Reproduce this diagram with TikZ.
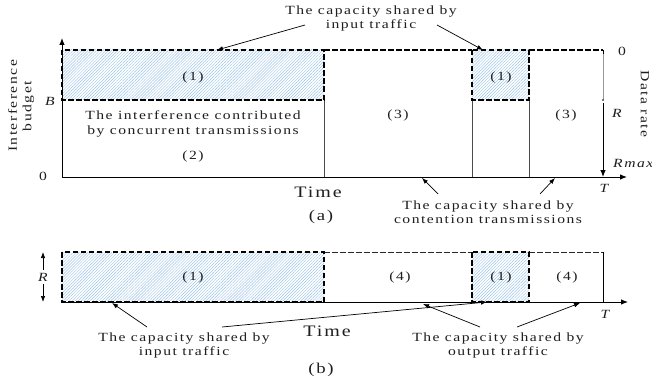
\documentclass[tikz,border=0pt]{standalone}
\usepackage{fontspec}
\setmainfont{Liberation Serif}[FakeStretch=1.25,LetterSpace=12]
\usetikzlibrary{arrows.meta,patterns.meta}
\definecolor{hatch}{RGB}{155,195,232}
\definecolor{ink}{RGB}{30,30,30}
\newcommand\lblsize{\fontsize{12.5}{14.5}\selectfont}
\begin{document}
\begin{tikzpicture}[x=1pt,y=-1pt,
  lbl/.style={font=\lblsize, align=center, inner sep=0pt, text=ink},
  ilbl/.style={font=\lblsize\itshape, inner sep=0pt, text=ink},
  timelbl/.style={font=\fontsize{16}{18}\selectfont, inner sep=0pt, text=ink},
  caplbl/.style={font=\fontsize{15}{17}\selectfont, inner sep=0pt, text=ink},
  hatched/.style={pattern={Lines[angle=45,distance=2.1pt,line width=0.45pt]}, pattern color=hatch},
  thickdash/.style={draw=black, line width=1.7pt, dash pattern=on 5.5pt off 2.5pt},
  thindash/.style={draw=black!85, line width=1.0pt, dash pattern=on 5.5pt off 2.5pt},
  divider/.style={draw=black!70, line width=0.6pt},
  axis/.style={draw=black, line width=0.9pt, -{Latex[length=7pt,width=5.5pt]}},
  ann/.style={draw=black, line width=0.7pt, -{Latex[length=6pt,width=4.5pt]}}
]
\useasboundingbox (0,0) rectangle (652,385);

% ---------------- panel (a) ----------------
\coordinate (aO) at (62,177);
\coordinate (aTop) at (62,38);
\coordinate (aEnd) at (627,177);
\fill[hatched] (62,50) rectangle (324,100);
\fill[hatched] (472,50) rectangle (529,100);
\draw[divider] (324,100) -- (324,177);
\draw[divider] (472,100) -- (472,177);
\draw[divider] (529,100) -- (529,177);
\draw[thickdash] (62,50) rectangle (324,100);
\draw[thickdash] (472,50) rectangle (529,100);
\draw[thickdash] (324,50) -- (472,50);
\draw[thickdash] (529,50) -- (603,50);
\draw[black, line width=0.9pt] (603,50) -- (603,54);
\draw[axis] (aO) -- (aTop);
\draw[axis] (aO) -- (aEnd);
\coordinate (rTop) at (603,54);
\coordinate (rMid) at (603,100);
\coordinate (rLow) at (603,103);
\coordinate (rMax) at (603,177);
\draw[black!40, line width=0.5pt] (rTop) -- (rMid);
\fill[black] (rMid) circle (0.8pt);
\draw[axis] (rLow) -- (rMax);

\node[lbl] (a1) at (193,77) {(1)};
\node[lbl] (a1b) at (501,77) {(1)};
\node[lbl] (concur) at (193,124) {The interference contributed\\by concurrent transmissions};
\node[lbl] (a2) at (193,156) {(2)};
\node[lbl] (a3) at (398,115) {(3)};
\node[lbl] (a3b) at (566,115) {(3)};

\node[lbl, rotate=90] (ib) at (21,106) {Interference\\budget};
\node[lbl, rotate=-90] (dr) at (645,104) {Data rate};
\node[ilbl] (B) at (50,101) {B};
\node[lbl] (zeroL) at (43,176) {0};
\node[lbl] (zeroR) at (622,51) {0};
\node[ilbl] (Rr) at (617,113) {R};
\node[ilbl, anchor=west] (Rmax) at (613,163) {Rmax};
\node[ilbl] (Ta) at (604,188) {T};
\node[timelbl] (timeA) at (318,192) {Time};
\node[caplbl] (capA) at (321,217) {(a)};

\node[lbl] (topLbl) at (371,18.5) {The capacity shared by\\input traffic};
\coordinate (t1s) at (305,25);
\coordinate (t1e) at (217,50);
\coordinate (t2s) at (437,25);
\coordinate (t2e) at (483,50);
\draw[ann] (t1s) -- (t1e);
\draw[ann] (t2s) -- (t2e);

\node[lbl] (contLbl) at (488,212) {The capacity shared by\\contention transmissions};
\coordinate (c1s) at (438,194);
\coordinate (c1e) at (422,178);
\coordinate (c2s) at (540,194);
\coordinate (c2e) at (555,178);
\draw[ann] (c1s) -- (c1e);
\draw[ann] (c2s) -- (c2e);

% ---------------- panel (b) ----------------
\coordinate (bO) at (62,302);
\coordinate (bEnd) at (628,302);
\fill[hatched] (62,252) rectangle (324,302);
\fill[hatched] (472,252) rectangle (529,302);
\draw[thindash] (324,252) -- (472,252);
\draw[thindash] (529,252) -- (603,252);
\draw[black, line width=0.8pt] (603,252) -- (603,302);
\draw[axis] (bO) -- (bEnd);
\draw[thickdash] (62,252) rectangle (324,302);
\draw[thickdash] (472,252) rectangle (529,302);

\node[lbl] (b1) at (193,277) {(1)};
\node[lbl] (b4) at (400,277) {(4)};
\node[lbl] (b1b) at (501,277) {(1)};
\node[lbl] (b4b) at (567,277) {(4)};
\node[ilbl] (Rb) at (43,277) {R};
\coordinate (Rup) at (43,252);
\coordinate (Rdn) at (43,302);
\draw[ann] (Rb.north) ++(0,-3) coordinate (Rbn) -- (Rup);
\draw[ann] (Rb.south) ++(0,3) coordinate (Rbs) -- (Rdn);
\node[ilbl] (Tb) at (605,314) {T};
\node[timelbl] (timeB) at (327,331) {Time};
\node[caplbl] (capB) at (321,370) {(b)};

\node[lbl] (inLbl) at (184,345.5) {The capacity shared by\\input traffic};
\node[lbl] (outLbl) at (498,345.5) {The capacity shared by\\output traffic};
\coordinate (i1s) at (147,327);
\coordinate (i1e) at (112,303);
\coordinate (i2s) at (222,327);
\coordinate (i2e) at (487,302);
\coordinate (o1s) at (480,327);
\coordinate (o1e) at (423,304);
\coordinate (o2s) at (517,327);
\coordinate (o2e) at (580,303);
\draw[ann] (i1s) -- (i1e);
\draw[ann] (i2s) -- (i2e);
\draw[ann] (o1s) -- (o1e);
\draw[ann] (o2s) -- (o2e);
\end{tikzpicture}
\end{document}
